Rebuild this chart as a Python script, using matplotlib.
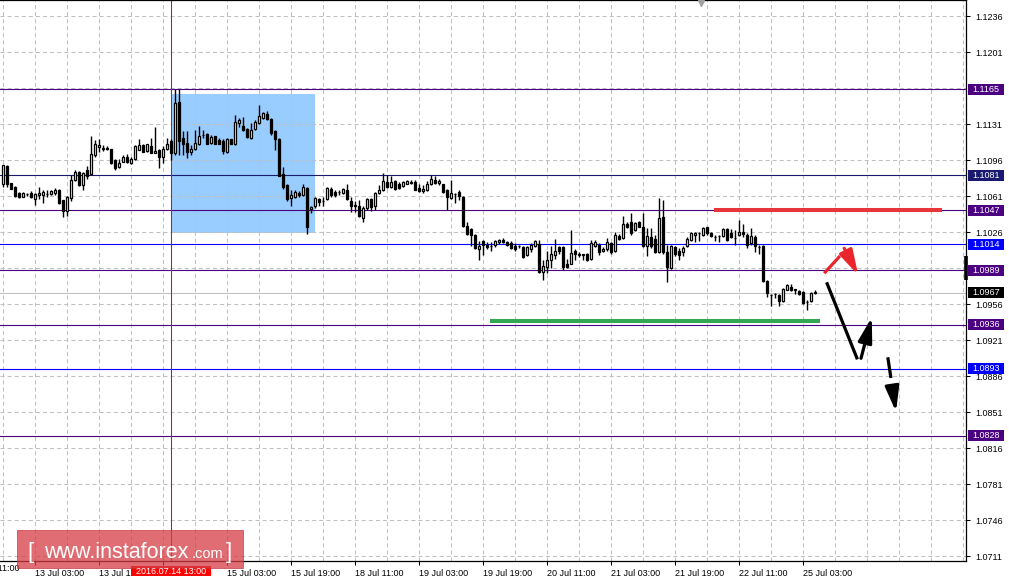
import numpy as np
import matplotlib
matplotlib.use("Agg")
import matplotlib.pyplot as plt
from matplotlib.patches import Rectangle

plt.rcParams["font.family"] = ["Liberation Sans", "DejaVu Sans"]
plt.rcParams["lines.scale_dashes"] = False

# H1 candles, bar 0 = 13 Jul 03:00 (weekend bars skipped)
first_bar = -8
opens = [
    1.1073, 1.1090, 1.1074, 1.1070, 1.1064, 1.1060, 1.1063, 1.1064,
    1.1058, 1.1062, 1.1062, 1.1063, 1.1063, 1.1064, 1.1067, 1.1057,
    1.1046, 1.1059, 1.1077, 1.1084, 1.1072, 1.1086, 1.1082, 1.1101,
    1.1109, 1.1107, 1.1107, 1.1107, 1.1096, 1.1089, 1.1094, 1.1099,
    1.1093, 1.1097, 1.1106, 1.1111, 1.1105, 1.1110, 1.1103, 1.1106,
    1.1099, 1.1107, 1.1114, 1.1103, 1.1152, 1.1117, 1.1113, 1.1104,
    1.1107, 1.1112, 1.1120, 1.1121, 1.1113, 1.1119, 1.1115, 1.1114,
    1.1104, 1.1116, 1.1112, 1.1132, 1.1129, 1.1126, 1.1117, 1.1126,
    1.1132, 1.1137, 1.1141, 1.1136, 1.1124, 1.1116, 1.1082, 1.1072,
    1.1059, 1.1060, 1.1064, 1.1062, 1.1069, 1.1048, 1.1051, 1.1058,
    1.1056, 1.1058, 1.1068, 1.1065, 1.1065, 1.1064, 1.1067, 1.1056,
    1.1052, 1.1051, 1.1040, 1.1049, 1.1058, 1.1051, 1.1064, 1.1067,
    1.1075, 1.1070, 1.1076, 1.1073, 1.1071, 1.1073, 1.1074, 1.1075,
    1.1069, 1.1066, 1.1067, 1.1073, 1.1077, 1.1074, 1.1073, 1.1067,
    1.1059, 1.1063, 1.1065, 1.1060, 1.1032, 1.1029, 1.1023, 1.1009,
    1.1017, 1.1013, 1.1012, 1.1013, 1.1016, 1.1018, 1.1016, 1.1015,
    1.1012, 1.1012, 1.1011, 1.1004, 1.1009, 1.1012, 1.1014, 1.0987,
    1.0992, 1.0999, 1.1004, 1.1011, 1.1011, 1.0995, 1.0995, 1.1008,
    1.1004, 1.1004, 1.1005, 1.1000, 1.1012, 1.1013, 1.1008, 1.1009,
    1.1015, 1.1008, 1.1022, 1.1020, 1.1034, 1.1036, 1.1028, 1.1036,
    1.1031, 1.1012, 1.1021, 1.1019, 1.1007, 1.1041, 1.1007, 1.0991,
    1.1011, 1.1008, 1.1007, 1.1012, 1.1018, 1.1023, 1.1025, 1.1023,
    1.1031, 1.1025, 1.1021, 1.1022, 1.1022, 1.1029, 1.1025, 1.1020,
    1.1023, 1.1026, 1.1023, 1.1015, 1.1021, 1.1011, 1.1012, 1.0978,
    1.0965, 1.0966, 1.0965, 1.0959, 1.0970, 1.0973, 1.0970, 1.0969,
    1.0968, 1.0958, 1.0959, 1.0967,
]
highs = [
    1.1091, 1.1091, 1.1074, 1.1071, 1.1065, 1.1065, 1.1064, 1.1066,
    1.1064, 1.1070, 1.1067, 1.1067, 1.1067, 1.1069, 1.1068, 1.1057,
    1.1061, 1.1081, 1.1086, 1.1085, 1.1084, 1.1090, 1.1119, 1.1115,
    1.1116, 1.1111, 1.1110, 1.1107, 1.1097, 1.1097, 1.1101, 1.1102,
    1.1099, 1.1111, 1.1116, 1.1112, 1.1112, 1.1117, 1.1128, 1.1107,
    1.1110, 1.1117, 1.1116, 1.1165, 1.1165, 1.1124, 1.1124, 1.1111,
    1.1125, 1.1129, 1.1125, 1.1122, 1.1120, 1.1119, 1.1117, 1.1116,
    1.1117, 1.1116, 1.1140, 1.1137, 1.1138, 1.1127, 1.1132, 1.1135,
    1.1149, 1.1143, 1.1144, 1.1137, 1.1125, 1.1117, 1.1089, 1.1073,
    1.1067, 1.1067, 1.1066, 1.1073, 1.1070, 1.1051, 1.1060, 1.1059,
    1.1060, 1.1070, 1.1070, 1.1067, 1.1067, 1.1069, 1.1073, 1.1060,
    1.1056, 1.1057, 1.1051, 1.1059, 1.1059, 1.1065, 1.1072, 1.1083,
    1.1081, 1.1080, 1.1077, 1.1075, 1.1076, 1.1077, 1.1077, 1.1077,
    1.1073, 1.1072, 1.1076, 1.1081, 1.1080, 1.1078, 1.1073, 1.1068,
    1.1077, 1.1064, 1.1067, 1.1061, 1.1036, 1.1030, 1.1024, 1.1017,
    1.1018, 1.1016, 1.1016, 1.1018, 1.1019, 1.1020, 1.1017, 1.1017,
    1.1015, 1.1013, 1.1012, 1.1012, 1.1015, 1.1018, 1.1018, 1.0999,
    1.1008, 1.1012, 1.1019, 1.1012, 1.1012, 1.1000, 1.1028, 1.1009,
    1.1007, 1.1005, 1.1006, 1.1018, 1.1018, 1.1015, 1.1011, 1.1020,
    1.1016, 1.1026, 1.1024, 1.1042, 1.1036, 1.1044, 1.1036, 1.1037,
    1.1044, 1.1030, 1.1030, 1.1023, 1.1059, 1.1057, 1.1013, 1.1013,
    1.1012, 1.1010, 1.1012, 1.1021, 1.1026, 1.1026, 1.1026, 1.1031,
    1.1031, 1.1026, 1.1023, 1.1023, 1.1030, 1.1030, 1.1029, 1.1028,
    1.1038, 1.1034, 1.1025, 1.1030, 1.1023, 1.1013, 1.1013, 1.0979,
    1.0966, 1.0967, 1.0966, 1.0972, 1.0975, 1.0975, 1.0971, 1.0970,
    1.0969, 1.0960, 1.0968, 1.0970,
]
lows = [
    1.1070, 1.1070, 1.1068, 1.1060, 1.1059, 1.1060, 1.1061, 1.1059,
    1.1052, 1.1058, 1.1054, 1.1060, 1.1062, 1.1062, 1.1053, 1.1041,
    1.1042, 1.1056, 1.1076, 1.1071, 1.1067, 1.1078, 1.1081, 1.1099,
    1.1104, 1.1105, 1.1106, 1.1092, 1.1086, 1.1088, 1.1094, 1.1093,
    1.1092, 1.1096, 1.1106, 1.1104, 1.1104, 1.1103, 1.1103, 1.1088,
    1.1093, 1.1106, 1.1096, 1.1101, 1.1101, 1.1101, 1.1098, 1.1101,
    1.1106, 1.1111, 1.1117, 1.1112, 1.1112, 1.1112, 1.1112, 1.1102,
    1.1103, 1.1112, 1.1111, 1.1128, 1.1124, 1.1117, 1.1116, 1.1125,
    1.1131, 1.1136, 1.1135, 1.1120, 1.1106, 1.1080, 1.1068, 1.1056,
    1.1051, 1.1059, 1.1060, 1.1061, 1.1024, 1.1044, 1.1049, 1.1051,
    1.1051, 1.1057, 1.1060, 1.1060, 1.1062, 1.1063, 1.1057, 1.1045,
    1.1045, 1.1041, 1.1036, 1.1047, 1.1046, 1.1047, 1.1063, 1.1066,
    1.1069, 1.1069, 1.1067, 1.1068, 1.1070, 1.1073, 1.1073, 1.1067,
    1.1065, 1.1064, 1.1066, 1.1072, 1.1073, 1.1072, 1.1064, 1.1047,
    1.1058, 1.1054, 1.1057, 1.1031, 1.1023, 1.1012, 1.1009, 1.0999,
    1.1004, 1.1009, 1.1008, 1.1011, 1.1014, 1.1015, 1.1012, 1.1009,
    1.1008, 1.1010, 1.1001, 1.1003, 1.1007, 1.1011, 1.0986, 1.0979,
    1.0986, 1.0991, 1.1000, 1.1005, 1.0989, 1.0991, 1.0995, 1.0999,
    1.1002, 1.0999, 1.0998, 1.0999, 1.1011, 1.1004, 1.1007, 1.1008,
    1.1005, 1.1007, 1.1018, 1.1019, 1.1030, 1.1023, 1.1027, 1.1031,
    1.1011, 1.1003, 1.1010, 1.1006, 1.1006, 1.1005, 1.0977, 1.0990,
    1.1003, 1.0999, 1.1003, 1.1011, 1.1017, 1.1016, 1.1017, 1.1022,
    1.1023, 1.1021, 1.1017, 1.1016, 1.1021, 1.1017, 1.1020, 1.1013,
    1.1022, 1.1021, 1.1010, 1.1013, 1.1007, 1.1005, 1.0977, 1.0963,
    1.0954, 1.0962, 1.0954, 1.0958, 1.0970, 1.0969, 1.0966, 1.0965,
    1.0956, 1.0950, 1.0958, 1.0966,
]
closes = [
    1.1091, 1.1073, 1.1068, 1.1061, 1.1060, 1.1064, 1.1063, 1.1060,
    1.1063, 1.1064, 1.1065, 1.1063, 1.1066, 1.1067, 1.1054, 1.1046,
    1.1060, 1.1077, 1.1084, 1.1072, 1.1083, 1.1080, 1.1102, 1.1112,
    1.1111, 1.1107, 1.1107, 1.1093, 1.1088, 1.1093, 1.1099, 1.1094,
    1.1097, 1.1110, 1.1111, 1.1104, 1.1112, 1.1103, 1.1105, 1.1099,
    1.1107, 1.1112, 1.1103, 1.1151, 1.1114, 1.1112, 1.1104, 1.1107,
    1.1113, 1.1119, 1.1120, 1.1112, 1.1118, 1.1112, 1.1112, 1.1105,
    1.1116, 1.1112, 1.1133, 1.1135, 1.1125, 1.1118, 1.1125, 1.1133,
    1.1139, 1.1142, 1.1136, 1.1122, 1.1116, 1.1080, 1.1070, 1.1058,
    1.1062, 1.1065, 1.1062, 1.1070, 1.1031, 1.1050, 1.1059, 1.1055,
    1.1056, 1.1069, 1.1062, 1.1062, 1.1065, 1.1068, 1.1058, 1.1051,
    1.1051, 1.1042, 1.1049, 1.1058, 1.1050, 1.1064, 1.1067, 1.1076,
    1.1070, 1.1075, 1.1068, 1.1069, 1.1075, 1.1076, 1.1074, 1.1067,
    1.1066, 1.1068, 1.1073, 1.1078, 1.1074, 1.1076, 1.1065, 1.1060,
    1.1064, 1.1063, 1.1061, 1.1032, 1.1024, 1.1023, 1.1010, 1.1012,
    1.1013, 1.1011, 1.1012, 1.1017, 1.1018, 1.1016, 1.1013, 1.1010,
    1.1009, 1.1012, 1.1002, 1.1011, 1.1013, 1.1017, 1.0987, 1.0993,
    1.0999, 1.1005, 1.1008, 1.1008, 1.0992, 1.0992, 1.1006, 1.1005,
    1.1005, 1.1004, 1.0999, 1.1015, 1.1016, 1.1007, 1.1009, 1.1016,
    1.1007, 1.1023, 1.1019, 1.1034, 1.1031, 1.1025, 1.1035, 1.1031,
    1.1012, 1.1022, 1.1012, 1.1007, 1.1040, 1.1007, 1.0992, 1.1012,
    1.1005, 1.1004, 1.1010, 1.1019, 1.1025, 1.1025, 1.1025, 1.1030,
    1.1025, 1.1022, 1.1021, 1.1022, 1.1029, 1.1018, 1.1021, 1.1020,
    1.1026, 1.1024, 1.1013, 1.1022, 1.1012, 1.1011, 1.0978, 1.0967,
    1.0965, 1.0966, 1.0959, 1.0971, 1.0974, 1.0970, 1.0970, 1.0966,
    1.0957, 1.0958, 1.0967, 1.0967,
]

# axis / levels
grid_prices = [1.1236, 1.1201, 1.1166, 1.1131, 1.1096, 1.1061, 1.1026, 1.0991,
               1.0956, 1.0921, 1.0886, 1.0851, 1.0816, 1.0781, 1.0746, 1.0711]
price_ticks = [1.1236, 1.1201, 1.1131, 1.1096, 1.1061, 1.1026, 1.0956, 1.0921,
               1.0886, 1.0851, 1.0816, 1.0781, 1.0746, 1.0711]
time_labels = ["12 Jul 11:00", "13 Jul 03:00", "13 Jul 19:00", "14 Jul 11:00",
               "15 Jul 03:00", "15 Jul 19:00", "18 Jul 11:00", "19 Jul 03:00",
               "19 Jul 19:00", "20 Jul 11:00", "21 Jul 03:00", "21 Jul 19:00",
               "22 Jul 11:00", "25 Jul 03:00"]
time_label_bars = [-16, 0, 16, 32, 48, 64, 80, 96, 112, 128, 144, 160, 176, 192]

levels = [1.1165, 1.1081, 1.1047, 1.1014, 1.0989, 1.0936, 1.0893, 1.0828]
level_colors = ["#4b0082", "#191970", "#4b0082", "#0000ff",
                "#4b0082", "#4b0082", "#0000ff", "#4b0082"]
current_price = 1.0967
current_range = (1.0979, 1.1003)

# drawn objects
selected_bar = 34
box_bars = (34, 70)
box_prices = (1.1025, 1.1160)
resistance_bars = (169.75, 226.75)
resistance_price = 1.1047
support_bars = (113.75, 196.25)
support_price = 1.09395
red_path = [(197.3, 1.09859), (201.25, 1.10027)]
red_arrow = [(202.3, 1.10102), (205.8, 1.09842)]
black_path = [(197.9, 1.09771), (205.6, 1.09022)]
black_arrow = [(206.5, 1.09032), (209.2, 1.09431)]
dashed_arrow = [(213.2, 1.09042), (215.25, 1.08513)]
shift_bar = 166.5

W, H = 1009, 582
fig = plt.figure(figsize=(W / 100, H / 100), dpi=100)
ax = fig.add_axes([0, 21 / H, 966 / W, 561 / H])
ax.set_xlim(-8.75, 232.75)
ax.set_ylim(1.070615, 1.125156)

grid_kw = dict(color="#c0c0c0", lw=0.75, ls=(0, (2.9, 2.2)), zorder=1)
for p in grid_prices:
    ax.axhline(p, **grid_kw)
for b in range(-8, 233, 8):
    ax.axvline(b, **grid_kw)

# background rectangle
ax.add_patch(Rectangle((box_bars[0], box_prices[0]), box_bars[1] - box_bars[0],
                       box_prices[1] - box_prices[0], facecolor="#99ccff",
                       edgecolor="none", zorder=0.5))

for p, c in zip(levels, level_colors):
    ax.axhline(p, color=c, lw=0.8, zorder=2)
ax.axhline(current_price, color="#c0c0c0", lw=0.8, zorder=2)
ax.axvline(selected_bar, color="red", lw=0.75, zorder=2)

# candles
o = np.array(opens)
c = np.array(closes)
bars = np.arange(first_bar, first_bar + len(o))
up = c >= o
ax.vlines(bars, lows, highs, color="black", lw=1.0, zorder=3)
body = np.maximum(np.abs(c - o), 0.00002)
ax.bar(bars, body, bottom=np.minimum(o, c), width=0.62,
       color=np.where(up, "white", "black"), edgecolor="black", lw=0.9, zorder=4)

# trend lines
ax.plot(resistance_bars, [resistance_price] * 2, color="#e8353a", lw=2.9,
        solid_capstyle="butt", zorder=5)
ax.plot(support_bars, [support_price] * 2, color="#33a852", lw=2.9,
        solid_capstyle="butt", zorder=5)

# forecast arrows
head = "-|>,head_length=1.5,head_width=0.42"
xs, ys = zip(*red_path)
ax.plot(xs, ys, color="#e8262c", lw=2.3, solid_capstyle="butt", zorder=6)
ax.annotate("", xy=red_arrow[1], xytext=red_arrow[0], zorder=6,
            arrowprops=dict(arrowstyle=head, color="#e8262c", lw=2.3,
                            shrinkA=0, shrinkB=0))
xs, ys = zip(*black_path)
ax.plot(xs, ys, color="black", lw=2.3, solid_capstyle="butt", zorder=6)
ax.annotate("", xy=black_arrow[1], xytext=black_arrow[0], zorder=6,
            arrowprops=dict(arrowstyle=head, color="black", lw=2.3,
                            shrinkA=0, shrinkB=0))
(x0, y0), (x1, y1) = dashed_arrow
f = 0.38
ax.plot([x0, x0 + (x1 - x0) * f], [y0, y0 + (y1 - y0) * f], color="black",
        lw=2.3, solid_capstyle="butt", zorder=6)
ax.annotate("", xy=(x1, y1), xytext=(x0 + (x1 - x0) * 0.55, y0 + (y1 - y0) * 0.55),
            zorder=6, arrowprops=dict(arrowstyle=head, color="black", lw=2.3,
                                      shrinkA=0, shrinkB=0))

# axes styling
ax.spines["left"].set_visible(False)
for s in ["top", "right", "bottom"]:
    ax.spines[s].set_color("black")
    ax.spines[s].set_linewidth(0.9)
ax.yaxis.tick_right()
ax.set_yticks(price_ticks)
ax.set_yticklabels([f"{p:.4f}" for p in price_ticks])
ax.tick_params(axis="y", direction="out", length=3, width=0.75, pad=4,
               labelsize=6.5, colors="black")
ax.set_xticks(time_label_bars[1:])
ax.set_xticklabels(time_labels[1:])
ax.tick_params(axis="x", direction="out", length=3, width=0.75, pad=3,
               labelsize=6.5)
for lab in ax.get_xticklabels():
    lab.set_horizontalalignment("left")
xt = ax.get_xaxis_transform()
ax.text(time_label_bars[0], -0.0055, time_labels[0], transform=xt, ha="left",
        va="top", fontsize=6.5, clip_on=False)

yt = ax.get_yaxis_transform()
box_h = 11 / 10286
for p, col in list(zip(levels, level_colors)) + [(current_price, "black")]:
    ax.add_patch(Rectangle((1 + 2 / 966, p - box_h / 2), 36 / 966, box_h,
                           transform=yt, facecolor=col, edgecolor="none",
                           clip_on=False, zorder=10))
    ax.text(1 + 6 / 966, p, f"{p:.4f}", transform=yt, ha="left", va="center",
            color="white", fontsize=6.5, clip_on=False, zorder=11)
ax.plot([1, 1], current_range, transform=yt, color="black", lw=2.6,
        solid_capstyle="butt", clip_on=False, zorder=12)
ax.plot([shift_bar], [1 - 3 / 561], transform=xt, marker="v", ms=5,
        color="#a0a0a0", clip_on=False, zorder=12)


def fx(px):
    return px / W


def fy(py):
    return 1 - py / H


# selected time label
fig.add_artist(Rectangle((fx(131), fy(576)), 80 / W, 10 / H, facecolor="red",
                         edgecolor="none", transform=fig.transFigure, zorder=20))
fig.text(fx(171), fy(571), "2016.07.14 13:00", ha="center", va="center",
         color="white", fontsize=6.5, zorder=21)

# watermark
fig.add_artist(Rectangle((fx(17), fy(568)), 226 / W, 38 / H, facecolor="#d63c45",
                         edgecolor="#c03038", lw=0.6, alpha=0.75,
                         transform=fig.transFigure, zorder=20))
wm = dict(color="white", zorder=21, va="baseline")
fig.text(fx(27), fy(558), "[", fontsize=16, **wm)
fig.text(fx(44), fy(558), "www.instaforex", fontsize=15.5, **wm)
fig.text(fx(192), fy(558), ".com", fontsize=10.5, **wm)
fig.text(fx(226), fy(558), "]", fontsize=16, **wm)

fig.savefig("out.png", dpi=100)
